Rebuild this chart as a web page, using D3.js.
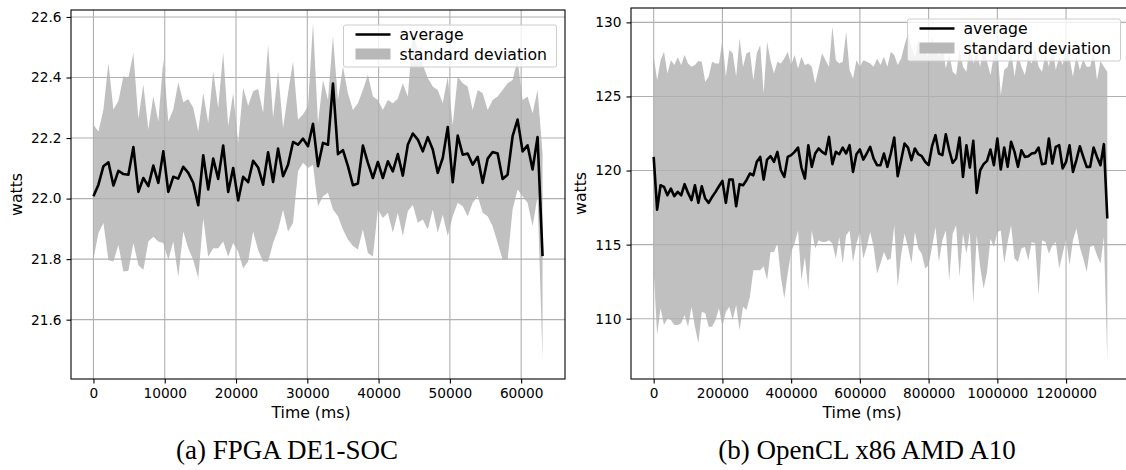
<!DOCTYPE html>
<html>
<head>
<meta charset="utf-8">
<script src="https://cdn.jsdelivr.net/npm/d3@7"></script>
<style>
  body { margin: 0; background: #fff; }
  svg { display: block; }
</style>
</head>
<body>
<svg id="fig" width="1126" height="470"></svg>
<script>
// ---- (a) FPGA DE1-SOC ----
const fpgaTime = [
  0, 700, 1400, 2100, 2800, 3500, 4200, 4900, 5600, 6300,
  7000, 7700, 8400, 9100, 9800, 10500, 11200, 11900, 12600, 13300,
  14000, 14700, 15400, 16100, 16800, 17500, 18200, 18900, 19600, 20300,
  21000, 21700, 22400, 23100, 23800, 24500, 25200, 25900, 26600, 27300,
  28000, 28700, 29400, 30100, 30800, 31500, 32200, 32900, 33600, 34300,
  35000, 35700, 36400, 37100, 37800, 38500, 39200, 39900, 40600, 41300,
  42000, 42700, 43400, 44100, 44800, 45500, 46200, 46900, 47600, 48300,
  49000, 49700, 50400, 51100, 51800, 52500, 53200, 53900, 54600, 55300,
  56000, 56700, 57400, 58100, 58800, 59500, 60200, 60900, 61600, 62300,
  63000
];
const fpgaAvg = [
  22.008, 22.046, 22.107, 22.12, 22.043, 22.092, 22.081, 22.079, 22.17, 22.022,
  22.068, 22.041, 22.109, 22.052, 22.156, 22.022, 22.072, 22.066, 22.105, 22.085,
  22.052, 21.978, 22.143, 22.03, 22.132, 22.065, 22.175, 22.022, 22.101, 21.994,
  22.072, 22.054, 22.125, 22.103, 22.046, 22.153, 22.055, 22.165, 22.074, 22.112,
  22.187, 22.178, 22.198, 22.173, 22.247, 22.107, 22.184, 22.178, 22.38, 22.147,
  22.16, 22.107, 22.044, 22.05, 22.175, 22.118, 22.068, 22.121, 22.068, 22.123,
  22.09, 22.147, 22.076, 22.178, 22.215, 22.195, 22.156, 22.203, 22.162, 22.085,
  22.134, 22.236, 22.054, 22.208, 22.145, 22.149, 22.112, 22.138, 22.052, 22.132,
  22.154, 22.149, 22.065, 22.079, 22.206, 22.261, 22.156, 22.176, 22.096, 22.203,
  21.81
];
const fpgaUpper = [
  22.244, 22.222, 22.294, 22.448, 22.294, 22.322, 22.404, 22.399, 22.481, 22.263,
  22.377, 22.228, 22.338, 22.255, 22.459, 22.255, 22.294, 22.384, 22.318, 22.329,
  22.3, 22.222, 22.349, 22.25, 22.421, 22.3, 22.483, 22.239, 22.349, 22.184,
  22.366, 22.307, 22.355, 22.362, 22.283, 22.509, 22.267, 22.421, 22.233, 22.349,
  22.454, 22.261, 22.278, 22.305, 22.58, 22.249, 22.392, 22.326, 22.536, 22.326,
  22.436, 22.348, 22.293, 22.315, 22.359, 22.409, 22.337, 22.326, 22.293, 22.326,
  22.315, 22.331, 22.381, 22.337, 22.547, 22.492, 22.442, 22.398, 22.37, 22.359,
  22.315, 22.403, 22.243, 22.403, 22.381, 22.37, 22.293, 22.359, 22.348, 22.293,
  22.326, 22.337, 22.359, 22.381, 22.392, 22.459, 22.326, 22.337, 22.282, 22.359,
  22.15
];
const fpgaLower = [
  21.80, 21.886, 21.919, 21.797, 21.792, 21.847, 21.759, 21.762, 21.853, 21.781,
  21.764, 21.858, 21.874, 21.858, 21.853, 21.797, 21.858, 21.742, 21.891, 21.836,
  21.797, 21.737, 21.935, 21.808, 21.836, 21.836, 21.858, 21.808, 21.853, 21.825,
  21.77, 21.792, 21.891, 21.83, 21.792, 21.792, 21.853, 21.897, 21.963, 21.891,
  21.919, 22.09, 22.118, 22.101, 22.112, 21.975, 22.008, 22.019, 21.964, 21.942,
  21.898, 21.865, 21.843, 21.832, 21.898, 21.82, 21.809, 21.964, 21.936, 21.953,
  21.887, 21.953, 21.876, 21.958, 21.98, 21.92, 21.931, 21.898, 21.964, 21.887,
  21.947, 21.876, 21.942, 21.986, 21.975, 21.942, 21.986, 22.008, 21.953, 21.942,
  21.909, 21.854, 21.798, 21.798, 21.964, 22.03, 22.008, 21.986, 21.909, 22.008,
  21.47
];
const fpgaXTicks = [0, 10000, 20000, 30000, 40000, 50000, 60000];
const fpgaYTicks = [21.6, 21.8, 22.0, 22.2, 22.4, 22.6];

// ---- (b) OpenCL x86 AMD A10 ----
const amdTime = [
  0, 10000, 20000, 30000, 40000, 50000, 60000, 70000, 80000, 90000,
  100000, 110000, 120000, 130000, 140000, 150000, 160000, 170000, 180000, 190000,
  200000, 210000, 220000, 230000, 240000, 250000, 260000, 270000, 280000, 290000,
  300000, 310000, 320000, 330000, 340000, 350000, 360000, 370000, 380000, 390000,
  400000, 410000, 420000, 430000, 440000, 450000, 460000, 470000, 480000, 490000,
  500000, 510000, 520000, 530000, 540000, 550000, 560000, 570000, 580000, 590000,
  600000, 610000, 620000, 630000, 640000, 650000, 660000, 670000, 680000, 690000,
  700000, 710000, 720000, 730000, 740000, 750000, 760000, 770000, 780000, 790000,
  800000, 810000, 820000, 830000, 840000, 850000, 860000, 870000, 880000, 890000,
  900000, 910000, 920000, 930000, 940000, 950000, 960000, 970000, 980000, 990000,
  1000000, 1010000, 1020000, 1030000, 1040000, 1050000, 1060000, 1070000, 1080000, 1090000,
  1100000, 1110000, 1120000, 1130000, 1140000, 1150000, 1160000, 1170000, 1180000, 1190000,
  1200000, 1210000, 1220000, 1230000, 1240000, 1250000, 1260000, 1270000, 1280000, 1290000,
  1300000, 1310000, 1320000
];
const amdAvg = [
  120.92, 117.36, 119.01, 118.9, 118.33, 118.78, 118.27, 118.56, 118.33, 119.08,
  118.49, 118.0, 119.01, 117.82, 118.94, 118.11, 117.82, 118.22, 118.56, 118.94,
  119.3, 117.82, 119.39, 119.39, 117.59, 119.08, 119.01, 119.35, 119.8, 119.68,
  120.59, 120.92, 119.39, 120.74, 120.97, 120.59, 121.26, 120.02, 119.57, 120.92,
  121.04, 121.26, 121.55, 120.2, 119.46, 121.71, 120.25, 121.15, 121.49, 121.26,
  121.1, 122.27, 120.43, 121.26, 121.1, 121.55, 121.15, 121.71, 119.91, 121.1,
  121.42, 120.74, 121.15, 121.6, 120.81, 120.36, 120.36, 121.15, 120.25, 121.15,
  122.23, 119.62, 120.7, 121.82, 121.55, 120.7, 121.49, 121.1, 120.97, 120.59,
  120.36, 121.64, 122.39, 121.15, 121.04, 122.45, 121.37, 120.52, 120.81, 122.23,
  119.57, 121.71, 120.2, 122.0, 118.49, 120.02, 120.43, 120.65, 121.42, 120.36,
  122.16, 120.07, 121.55, 120.25, 121.94, 121.26, 120.25, 121.37, 120.92, 120.97,
  121.15, 121.19, 121.55, 120.43, 120.47, 122.16, 120.47, 121.6, 121.71, 120.14,
  120.59, 121.71, 119.91, 120.7, 121.64, 120.92, 120.25, 120.25, 121.55, 120.92,
  120.36, 121.78, 116.76
];
const amdUpper = [
  127.68, 126.1, 127.45, 128.02, 126.55, 127.45, 127.12, 127.64, 127.12, 127.79,
  127.23, 127.0, 127.12, 127.39, 127.34, 125.99, 126.33, 127.34, 127.23, 127.23,
  128.81, 126.33, 128.13, 127.91, 126.33, 128.92, 127.0, 127.91, 128.02, 126.1,
  127.91, 128.47, 125.2, 128.69, 127.45, 126.55, 127.34, 127.23, 127.57, 128.02,
  127.12, 127.79, 126.89, 127.68, 127.12, 127.23, 127.0, 125.88, 126.89, 127.91,
  127.45, 127.0, 129.71, 127.45, 127.23, 127.34, 129.37, 126.8, 126.22, 127.45,
  127.0, 127.45, 127.34, 127.23, 127.0, 127.57, 127.12, 127.68, 127.0, 128.02,
  127.79, 127.12, 127.57, 128.47, 129.26, 128.3, 127.6, 128.9, 127.8, 128.4,
  127.5, 129.0, 128.1, 127.7, 128.6, 126.89, 127.9, 126.67, 126.44, 128.2,
  127.0, 126.67, 128.5, 127.23, 128.0, 127.0, 128.3, 127.34, 126.44, 127.8,
  128.4, 125.09, 126.78, 127.0, 128.1, 126.33, 127.9, 127.0, 126.44, 127.6,
  127.23, 128.2, 127.0, 126.67, 127.9, 127.0, 128.5, 126.78, 127.7, 127.12,
  128.3, 127.6, 126.33, 127.8, 126.78, 127.5, 127.0, 127.0, 128.1, 126.1,
  127.4, 127.0, 126.67
];
const amdLower = [
  113.27, 108.9, 110.7, 109.57, 110.02, 109.91, 109.57, 109.57, 109.69, 110.25,
  109.46, 110.81, 109.46, 108.34, 110.47, 110.36, 109.46, 109.46, 109.91, 110.7,
  109.46, 110.47, 110.81, 109.91, 110.92, 109.24, 110.81, 110.58, 111.48, 113.27,
  113.27, 113.27, 113.54, 112.6, 114.5, 114.5, 115.07, 112.83, 111.37, 113.05,
  114.5, 115.07, 115.96, 112.6, 114.17, 111.93, 115.96, 114.73, 115.29, 115.18,
  115.18, 115.29, 115.07, 114.06, 115.52, 113.72, 115.63, 115.96, 113.83, 115.07,
  115.85, 114.06, 114.84, 115.85, 114.84, 113.05, 113.72, 114.51, 113.95, 114.06,
  116.3, 112.15, 114.28, 115.74, 114.84, 113.72, 115.85, 114.73, 114.39, 113.39,
  113.61, 114.84, 116.19, 113.83, 115.29, 115.96, 112.6, 115.74, 116.3, 112.83,
  115.74, 114.39, 115.85, 111.03, 115.63, 113.5, 112.04, 113.16, 115.4, 114.84,
  115.85, 115.96, 113.72, 115.18, 116.3, 114.06, 113.83, 114.73, 114.84, 113.95,
  115.18, 115.07, 111.59, 115.29, 115.18, 114.39, 114.96, 115.18, 113.39, 114.39,
  115.4, 113.61, 115.29, 116.08, 114.84, 114.06, 113.16, 114.84, 114.96, 114.28,
  113.72, 115.52, 107.2
];
const amdXTicks = [0, 200000, 400000, 600000, 800000, 1000000, 1200000];
const amdYTicks = [110, 115, 120, 125, 130];

const legendLabels = ['average', 'standard deviation'];

const svg = d3.select('#fig');
const sans = '"DejaVu Sans", sans-serif';

function drawPanel(id, o) {
    const x = d3.scaleLinear().domain(o.xDomain).range([o.left, o.right]);
    const y = d3.scaleLinear().domain(o.yDomain).range([o.bottom, o.top]);

    svg.append('clipPath').attr('id', 'clip-' + id)
        .append('rect')
        .attr('x', o.left).attr('y', o.top)
        .attr('width', o.right - o.left).attr('height', o.bottom - o.top);

    const g = svg.append('g');
    const plot = g.append('g').attr('clip-path', `url(#clip-${id})`);

    const idx = d3.range(o.time.length);

    // std band
    plot.append('path')
        .datum(idx)
        .attr('fill', '#c0c0c0')
        .attr('d', d3.area()
            .x(i => x(o.time[i]))
            .y0(i => y(o.lower[i]))
            .y1(i => y(o.upper[i])));

    // grid
    plot.append('g').selectAll('line')
        .data(o.xTicks)
        .join('line')
        .attr('x1', d => x(d)).attr('x2', d => x(d))
        .attr('y1', o.top).attr('y2', o.bottom)
        .attr('stroke', '#b0b0b0').attr('stroke-width', 1.1);
    plot.append('g').selectAll('line')
        .data(o.yTicks)
        .join('line')
        .attr('x1', o.left).attr('x2', o.right)
        .attr('y1', d => y(d)).attr('y2', d => y(d))
        .attr('stroke', '#b0b0b0').attr('stroke-width', 1.1);

    // average
    plot.append('path')
        .datum(idx)
        .attr('fill', 'none')
        .attr('stroke', '#000')
        .attr('stroke-width', 2.6)
        .attr('stroke-linejoin', 'round')
        .attr('d', d3.line()
            .x(i => x(o.time[i]))
            .y(i => y(o.avg[i])));

    // frame
    g.append('rect')
        .attr('x', o.left).attr('y', o.top)
        .attr('width', o.right - o.left).attr('height', o.bottom - o.top)
        .attr('fill', 'none').attr('stroke', '#000').attr('stroke-width', 1.1);

    const xAxis = g.append('g')
        .attr('transform', `translate(0,${o.bottom})`)
        .call(d3.axisBottom(x).tickValues(o.xTicks).tickSize(4.5).tickPadding(5)
            .tickFormat(d3.format('d')));
    const yAxis = g.append('g')
        .attr('transform', `translate(${o.left},0)`)
        .call(d3.axisLeft(y).tickValues(o.yTicks).tickSize(4.5).tickPadding(5)
            .tickFormat(o.yFormat));
    [xAxis, yAxis].forEach(a => {
        a.select('.domain').remove();
        a.attr('font-family', sans).attr('font-size', 13.7);
        a.selectAll('line').attr('stroke', '#000').attr('stroke-width', 1.1);
        a.selectAll('text').attr('fill', '#000');
    });

    g.append('text')
        .attr('x', o.xLabelX).attr('y', 418)
        .attr('text-anchor', 'middle')
        .attr('font-family', sans).attr('font-size', 15.7)
        .text('Time (ms)');

    g.append('text')
        .attr('transform', `translate(${o.yLabelX},${(o.top + o.bottom) / 2}) rotate(-90)`)
        .attr('text-anchor', 'middle')
        .attr('font-family', sans).attr('font-size', 15.7)
        .text('watts');

    // legend
    const lg = g.append('g').attr('transform', `translate(${o.legend[0]},${o.legend[1]})`);
    lg.append('rect')
        .attr('width', 213).attr('height', 42).attr('rx', 2)
        .attr('fill', '#fff').attr('fill-opacity', 0.8)
        .attr('stroke', '#cccccc').attr('stroke-width', 1);
    lg.append('line')
        .attr('x1', 12).attr('x2', 47).attr('y1', 9.5).attr('y2', 9.5)
        .attr('stroke', '#000').attr('stroke-width', 2.6);
    lg.append('rect')
        .attr('x', 12).attr('y', 23.5).attr('width', 35).attr('height', 11)
        .attr('fill', '#b8b8b8');
    lg.selectAll('text')
        .data(legendLabels)
        .join('text')
        .attr('x', 56)
        .attr('y', (d, i) => 14.5 + i * 20)
        .attr('font-family', sans).attr('font-size', 15.7)
        .text(d => d);

    svg.append('text')
        .attr('x', o.captionX).attr('y', 459)
        .attr('text-anchor', 'middle')
        .attr('font-family', '"Liberation Serif", "Times New Roman", serif')
        .attr('font-size', 27)
        .text(o.caption);
}

drawPanel('a', {
    left: 71, right: 565, top: 10, bottom: 379,
    xDomain: [-3150, 66150], yDomain: [21.404, 22.623],
    time: fpgaTime, avg: fpgaAvg, upper: fpgaUpper, lower: fpgaLower,
    xTicks: fpgaXTicks, yTicks: fpgaYTicks, yFormat: d3.format('.1f'),
    xLabelX: 311, yLabelX: 22,
    legend: [343.5, 25],
    caption: '(a) FPGA DE1-SOC', captionX: 287
});

drawPanel('b', {
    left: 631, right: 1130, top: 8, bottom: 379,
    xDomain: [-66000, 1386000], yDomain: [105.93, 130.97],
    time: amdTime, avg: amdAvg, upper: amdUpper, lower: amdLower,
    xTicks: amdXTicks, yTicks: amdYTicks, yFormat: d3.format('d'),
    xLabelX: 862, yLabelX: 586,
    legend: [907.5, 19],
    caption: '(b) OpenCL x86 AMD A10', captionX: 867
});
</script>
</body>
</html>
